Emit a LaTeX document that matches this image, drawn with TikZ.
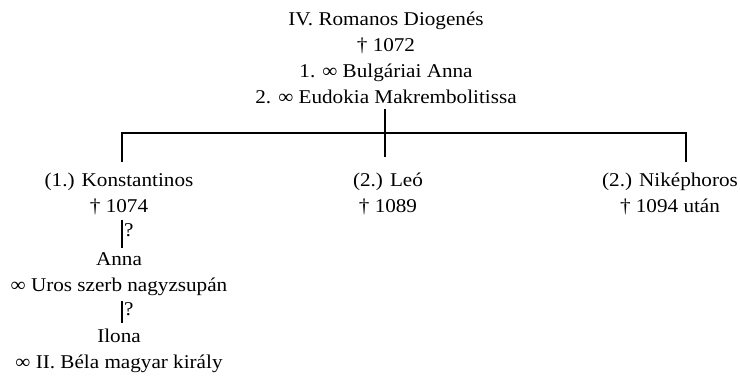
\documentclass[tikz,border=0pt]{standalone}
\usepackage{fontspec}
\setmainfont{Liberation Serif}[FakeStretch=1.085]
\usepackage{tikz}

\tikzset{
    person/.style={align=center, inner sep=4pt, anchor=base, font=\fontsize{19.5}{26}\selectfont},
    guess/.style={right, inner sep=1pt, font=\fontsize{19.5}{20}\selectfont}
}

\begin{document}
\begin{tikzpicture}[x=1pt, y=-1pt, line width=2.2pt]
    \useasboundingbox (0,0) rectangle (740,377);
    % anchor=base sits on the last line
    \node[person] (romanos) at (386,104)
        {IV. Romanos Diogenés\\† 1072\\1. ∞ Bulgáriai Anna\\2. ∞ Eudokia Makrembolitissa};
    \node[person] (konst) at (119,213) {(1.) Konstantinos\\† 1074};
    \node[person] (leo) at (388,213) {(2.) Leó\\† 1089};
    \node[person] (nike) at (670,213) {(2.) Niképhoros\\† 1094 után};
    \node[person] (anna) at (119,291.5) {Anna\\∞ Uros szerb nagyzsupán};
    \node[person] (ilona) at (119,368) {Ilona\\∞ II. Béla magyar király};
    \coordinate (fork) at (385,133);
    \draw (romanos.south -| fork) -- ([yshift=11pt]leo.north -| fork);
    \draw ([xshift=3pt, yshift=6pt]konst.north) |- (fork) -| ([xshift=16pt, yshift=6pt]nike.north);
    \draw ([xshift=3pt]konst.south) -- node[guess, pos=.35] {?} ([xshift=3pt]anna.north);
    \draw ([xshift=3pt]anna.south) -- node[guess, pos=.35] {?} ([xshift=3pt]ilona.north);
\end{tikzpicture}
\end{document}
